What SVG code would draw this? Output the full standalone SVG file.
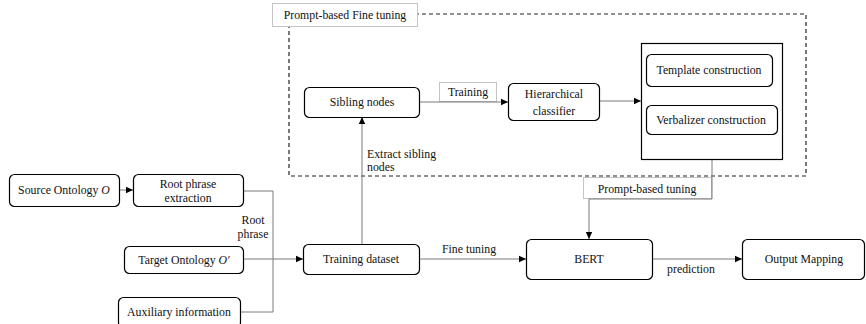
<svg xmlns="http://www.w3.org/2000/svg" width="866" height="324" viewBox="0 0 866 324" font-family="'Liberation Serif', 'DejaVu Serif', serif">
<defs>
<marker id="arr" markerWidth="8" markerHeight="8" refX="7" refY="4" orient="auto" markerUnits="userSpaceOnUse">
<path d="M0,0.8 L7,4 L0,7.2 Z" fill="#000"/>
</marker>
<style>
text{font-family:'Liberation Serif','DejaVu Serif',serif;font-size:11.8px;fill:#111;text-anchor:middle}
.node{fill:#fff;stroke:#000;stroke-width:1.2}
.lbl{fill:#fff;stroke:#c4c4c4;stroke-width:1}
.conn{fill:none;stroke:#7a7a7a;stroke-width:1}
.dash{fill:none;stroke:#222;stroke-width:1.2;stroke-dasharray:4,3}
</style>
</defs>
<rect width="866" height="324" fill="#fff"/>
<g id="frame">
<rect class="dash" x="289" y="14" width="517" height="162"/>
<rect class="lbl" x="272.5" y="3.5" width="145" height="23"/>
<text x="345" y="19">Prompt-based Fine tuning</text>
</g>
<g id="connectors">
<line class="conn" x1="119" y1="190" x2="133" y2="190" marker-end="url(#arr)"/>
<polyline class="conn" points="243,191 273,191 273,312 240,312"/>
<line class="conn" x1="243" y1="259" x2="303" y2="259" marker-end="url(#arr)"/>
<line class="conn" x1="362" y1="244" x2="362" y2="117" marker-end="url(#arr)"/>
<line class="conn" x1="419" y1="259" x2="526" y2="259" marker-end="url(#arr)"/>
<line class="conn" x1="652" y1="259" x2="742" y2="259" marker-end="url(#arr)"/>
<rect class="lbl" x="439.5" y="82.5" width="57" height="19"/>
<line class="conn" x1="419" y1="102" x2="508" y2="102" marker-end="url(#arr)"/>
<line class="conn" x1="599" y1="101" x2="641" y2="101" marker-end="url(#arr)"/>
<rect class="lbl" x="583.5" y="177.5" width="128" height="21"/>
<polyline class="conn" points="712,159 712,199 589,199 589,239" marker-end="url(#arr)"/>
<text x="253" y="224">Root</text>
<text x="253" y="238">phrase</text>
<text x="367" y="158" style="text-anchor:start">Extract sibling</text>
<text x="367" y="171" style="text-anchor:start">nodes</text>
<text x="468" y="96">Training</text>
<text x="469" y="253">Fine tuning</text>
<text x="691" y="273">prediction</text>
<text x="647" y="193">Prompt-based tuning</text>
</g>
<g id="source">
<rect class="node" x="9.5" y="174.5" width="110" height="32" rx="5"/>
<text x="64" y="194">Source Ontology <tspan font-style="italic">O</tspan></text>
</g>
<g id="root">
<rect class="node" x="133.5" y="174.5" width="110" height="32" rx="5"/>
<text x="188" y="188">Root phrase</text>
<text x="188" y="202">extraction</text>
</g>
<g id="target">
<rect class="node" x="124.5" y="246.5" width="119" height="27" rx="5"/>
<text x="184" y="264">Target Ontology <tspan font-style="italic">O′</tspan></text>
</g>
<g id="aux">
<rect class="node" x="118.5" y="297.5" width="122" height="30" rx="5"/>
<text x="179" y="316">Auxiliary information</text>
</g>
<g id="training">
<rect class="node" x="303.5" y="244.5" width="116" height="30" rx="5"/>
<text x="361" y="263">Training dataset</text>
</g>
<g id="sibling">
<rect class="node" x="304.5" y="87.5" width="115" height="30" rx="5"/>
<text x="362" y="106">Sibling nodes</text>
</g>
<g id="hier">
<rect class="node" x="508.5" y="83.5" width="91" height="37" rx="5"/>
<text x="554" y="98">Hierarchical</text>
<text x="554" y="115">classifier</text>
</g>
<g id="prompt">
<rect class="node" x="641.5" y="43.5" width="141" height="116"/>
</g>
<g id="template">
<rect class="node" x="646.5" y="54.5" width="126" height="32" rx="5"/>
<text x="709" y="74">Template construction</text>
</g>
<g id="verbalizer">
<rect class="node" x="646.5" y="105.5" width="131" height="29" rx="5"/>
<text x="711" y="124">Verbalizer construction</text>
</g>
<g id="bert">
<rect class="node" x="526.5" y="239.5" width="126" height="40" rx="5"/>
<text x="589" y="263">BERT</text>
</g>
<g id="output">
<rect class="node" x="742.5" y="239.5" width="122" height="40" rx="5"/>
<text x="804" y="263">Output Mapping</text>
</g>
</svg>
